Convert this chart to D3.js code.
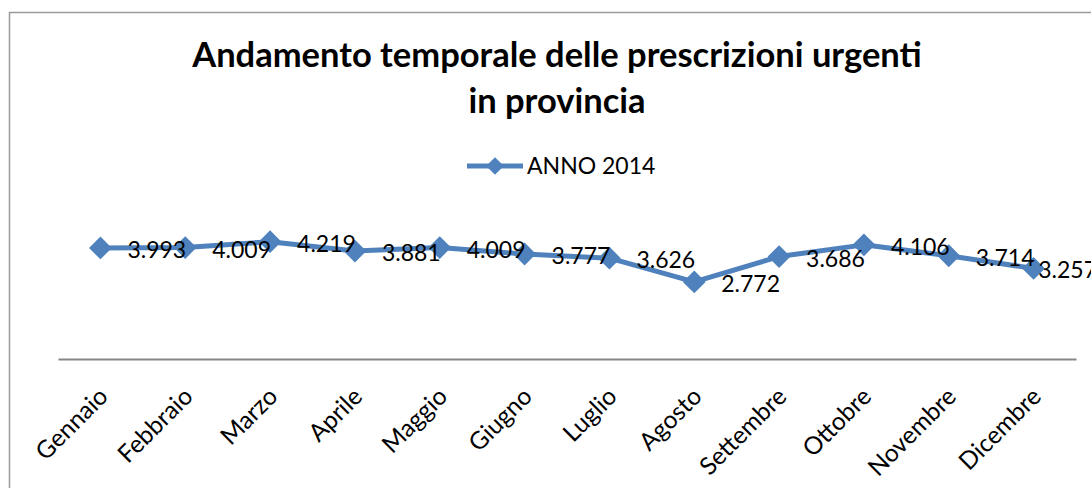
<!DOCTYPE html>
<html>
<head>
<meta charset="utf-8">
<script src="https://cdn.jsdelivr.net/npm/d3@7/dist/d3.min.js"></script>
<style>
  html, body { margin: 0; padding: 0; background: #fff; }
  svg { display: block; }
  text { font-family: Lato, "Open Sans", sans-serif; }
</style>
</head>
<body>
<svg id="chart" width="1091" height="488"></svg>
<script>
const months = ["Gennaio","Febbraio","Marzo","Aprile","Maggio","Giugno","Luglio","Agosto","Settembre","Ottobre","Novembre","Dicembre"];
const values2014 = [3993, 4009, 4219, 3881, 4009, 3777, 3626, 2772, 3686, 4106, 3714, 3257];
const seriesName = "ANNO 2014";
const titleLines = ["Andamento temporale delle prescrizioni urgenti", "in provincia"];
const yDomain = [0, 5000];

const fmt = d3.format(",d");
const itFmt = v => fmt(v).replace(/,/g, ".");

const svg = d3.select("#chart");
const W = 1091, H = 488;
const blue = "#4F81BD";

// chart border (frame)
svg.append("path")
  .attr("d", `M9.5,${H} L9.5,12.5 L${W},12.5`)
  .attr("fill", "none").attr("stroke", "#9a9a9a").attr("stroke-width", 1.5);

// Title
const title = svg.append("text").attr("text-anchor", "middle")
  .attr("font-weight", "bold").attr("font-size", 34.5).attr("fill", "#000");
title.selectAll("tspan").data(titleLines).join("tspan")
  .attr("x", 557).attr("y", (d, i) => 67 + i * 46).text(d => d);

// Legend
const leg = svg.append("g");
leg.append("line").attr("x1", 467).attr("x2", 523).attr("y1", 166).attr("y2", 166)
  .attr("stroke", blue).attr("stroke-width", 5);
leg.append("path").attr("d", d3.symbol(d3.symbolDiamond2, 200)())
  .attr("transform", "translate(495,166)").attr("fill", blue);
leg.append("text").attr("x", 527).attr("y", 174).attr("font-size", 23).attr("fill", "#000")
  .text(seriesName);

// Scales
const x = d3.scaleBand().domain(months).range([58, 1076]);
const y = d3.scaleLinear().domain(yDomain).range([359, 220]);
const cx = m => x(m) + x.bandwidth() / 2;

// Baseline axis
const xAxis = d3.axisBottom(x).tickSize(0).tickPadding(0);
const gx = svg.append("g").attr("transform", `translate(0,${y(0)})`).call(xAxis);
gx.select(".domain").attr("stroke", "#868686").attr("stroke-width", 2);
gx.selectAll(".tick text")
  .attr("font-size", 24.5).attr("font-family", "Lato, sans-serif").attr("fill", "#000")
  .attr("text-anchor", "end")
  .attr("dy", 0).attr("y", 0)
  .attr("transform", "translate(9,39) rotate(-45)");

const data = months.map((m, i) => ({ m, v: values2014[i] }));

// Line
svg.append("path").datum(data)
  .attr("fill", "none").attr("stroke", blue).attr("stroke-width", 5)
  .attr("stroke-linejoin", "round")
  .attr("d", d3.line().x(d => cx(d.m)).y(d => y(d.v)));

// Markers
svg.append("g").selectAll("path").data(data).join("path")
  .attr("d", d3.symbol(d3.symbolDiamond2, 330)())
  .attr("transform", d => `translate(${cx(d.m)},${y(d.v)})`)
  .attr("fill", blue);

// Data labels (right of point, clamped inside chart area)
const chartRight = 1097;
const labels = svg.append("g").selectAll("text").data(data).join("text")
  .attr("font-size", 23).attr("fill", "#000")
  .attr("dominant-baseline", "central")
  .attr("y", d => y(d.v) + 1)
  .text(d => itFmt(d.v));
labels.each(function(d) {
  const w = this.getComputedTextLength();
  const px = cx(d.m) + 27;
  d3.select(this).attr("x", Math.min(px, chartRight - w));
});
</script>
</body>
</html>
